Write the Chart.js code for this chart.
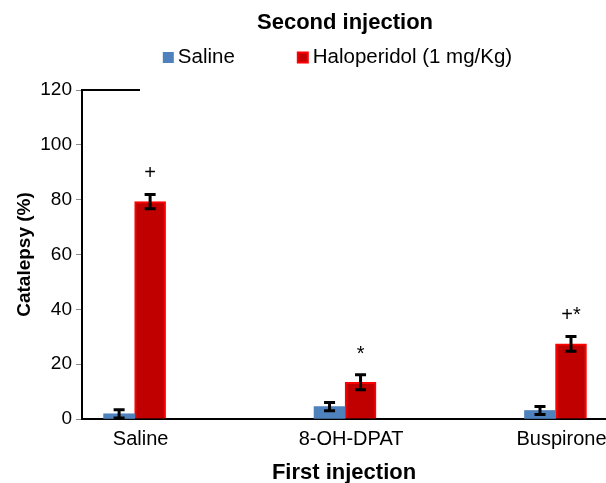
<!DOCTYPE html>
<html>
<head>
<meta charset="utf-8">
<script src="https://cdn.jsdelivr.net/npm/chart.js@4.4.0/dist/chart.umd.min.js"></script>
<style>
  html, body { margin: 0; padding: 0; background: #fff; }
  #wrap { width: 606px; height: 483px; position: relative; }
</style>
</head>
<body>
<div id="wrap"><canvas id="catalepsyChart"></canvas></div>
<script>
var categories = ['Saline', '8-OH-DPAT', 'Buspirone'];
var seriesNames = ['Saline', 'Haloperidol (1 mg/Kg)'];
var salineVals = [1.9, 4.5, 3.1];
var salineErr = [1.5, 1.5, 1.5];
var haloVals = [79.3, 13.4, 27.4];
var haloErr = [2.6, 2.7, 2.7];
var marks = ['+', '*', '+*'];

var FONT = '"Liberation Sans", Arial, sans-serif';
var BLUE = '#4F81BD';
var DARKRED = '#C00000';
var RED = '#FF0000';

function points(vals) {
    return vals.map(function (v, i) { return { x: i, y: v }; });
}

// error bars, significance marks, title + legend
var extras = {
    id: 'extras',
    afterDatasetsDraw: function (chart) {
        var ctx = chart.ctx;
        var y = chart.scales.y;
        var errs = [salineErr, haloErr];
        ctx.save();
        ctx.strokeStyle = '#000';
        ctx.lineWidth = 3;
        chart.data.datasets.forEach(function (ds, d) {
            chart.getDatasetMeta(d).data.forEach(function (bar, i) {
                var v = ds.data[i].y, e = errs[d][i];
                var top = y.getPixelForValue(v + e), bot = y.getPixelForValue(v - e);
                ctx.beginPath();
                ctx.moveTo(bar.x, top); ctx.lineTo(bar.x, bot);
                ctx.moveTo(bar.x - 5.5, top); ctx.lineTo(bar.x + 5.5, top);
                ctx.moveTo(bar.x - 5.5, bot); ctx.lineTo(bar.x + 5.5, bot);
                ctx.stroke();
                if (d === 1) {
                    ctx.fillStyle = '#000';
                    ctx.font = '20px ' + FONT;
                    ctx.textAlign = 'center';
                    ctx.textBaseline = 'alphabetic';
                    ctx.fillText(marks[i], bar.x, top - 15);
                }
            });
        });
        ctx.restore();
    },
    afterDraw: function (chart) {
        var ctx = chart.ctx, a = chart.chartArea;
        var cx = (a.left + a.right) / 2;
        ctx.save();
        // short top stub of the plot frame
        ctx.strokeStyle = '#000';
        ctx.lineWidth = 2;
        ctx.beginPath();
        ctx.moveTo(a.left, a.top); ctx.lineTo(a.left + 58, a.top);
        ctx.stroke();

        ctx.fillStyle = '#000';
        ctx.textAlign = 'center';
        ctx.textBaseline = 'middle';
        ctx.font = 'bold 22px ' + FONT;
        ctx.fillText('Second injection', cx + 1, a.top - 67);

        ctx.font = '20.5px ' + FONT;
        var box = 11, gap = 4, itemGap = 62;
        var w0 = ctx.measureText(seriesNames[0]).width;
        var w1 = ctx.measureText(seriesNames[1]).width;
        var total = box + gap + w0 + itemGap + box + gap + w1;
        var x = cx - 7 - total / 2;
        var ly = a.top - 32.5;
        ctx.textAlign = 'left';
        ctx.fillStyle = BLUE;
        ctx.fillRect(x, ly - box / 2, box, box);
        ctx.fillStyle = '#000';
        ctx.fillText(seriesNames[0], x + box + gap, ly);
        x += box + gap + w0 + itemGap;
        ctx.fillStyle = RED;
        ctx.fillRect(x, ly - box / 2 - 0.5, box + 1, box + 1);
        ctx.fillStyle = DARKRED;
        ctx.fillRect(x + 2, ly - box / 2 + 1.5, box - 3, box - 3);
        ctx.fillStyle = '#000';
        ctx.fillText(seriesNames[1], x + box + gap + 1, ly);
        ctx.restore();
    }
};

var ctx = document.getElementById('catalepsyChart');

var myChart = new Chart(ctx, {
    type: 'bar',
    data: {
        datasets: [
            {
                label: seriesNames[0],
                data: points(salineVals),
                backgroundColor: BLUE,
                borderWidth: 0
            },
            {
                label: seriesNames[1],
                data: points(haloVals),
                backgroundColor: DARKRED,
                borderColor: RED,
                borderWidth: 2
            }
        ]
    },
    options: {
        responsive: true,
        maintainAspectRatio: false,
        animation: false,
        layout: { padding: { top: 90, right: 0, bottom: 0, left: 0 } },
        datasets: { bar: { barThickness: 31 } },
        plugins: {
            legend: { display: false },
            title: { display: false },
            tooltip: { enabled: false }
        },
        scales: {
            x: {
                type: 'linear',
                offset: false,
                bounds: 'data',
                min: -0.25,
                max: 2.24,
                afterBuildTicks: function (s) {
                    s.ticks = categories.map(function (c, i) { return { value: i }; });
                },
                afterFit: function (s) { s.height = 64; },
                grid: { display: false },
                border: { display: true, color: '#000', width: 2 },
                ticks: {
                    autoSkip: false,
                    maxRotation: 0,
                    labelOffset: 6,
                    padding: 0,
                    color: '#000',
                    font: { family: FONT, size: 20 },
                    callback: function (v) { return categories[v]; }
                },
                title: {
                    display: true,
                    text: 'First injection',
                    color: '#000',
                    font: { family: FONT, size: 22, weight: 'bold' },
                    padding: { top: 0, bottom: -3 }
                }
            },
            y: {
                min: 0,
                max: 120,
                afterFit: function (s) { s.width = 82; },
                grid: {
                    drawOnChartArea: false,
                    drawTicks: true,
                    tickLength: 6,
                    color: '#8c8c8c'
                },
                border: { display: true, color: '#000', width: 2 },
                ticks: {
                    stepSize: 20,
                    padding: 4,
                    color: '#000',
                    font: { family: FONT, size: 19 }
                },
                title: {
                    display: true,
                    text: 'Catalepsy (%)',
                    color: '#000',
                    font: { family: FONT, size: 19, weight: 'bold' },
                    padding: { top: 13, bottom: 0 }
                }
            }
        }
    },
    plugins: [extras]
});
</script>
</body>
</html>
